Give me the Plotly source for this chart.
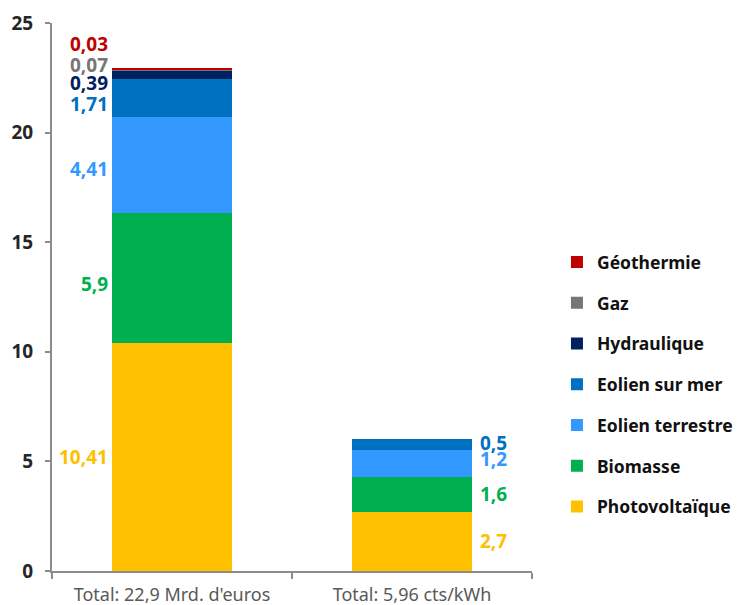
import plotly.graph_objects as go

categories = ["Total: 22,9 Mrd. d'euros", "Total: 5,96 cts/kWh"]
series_names = ["Photovoltaïque", "Biomasse", "Eolien terrestre", "Eolien sur mer",
                "Hydraulique", "Gaz", "Géothermie"]
values_bar1 = [10.41, 5.9, 4.41, 1.71, 0.39, 0.07, 0.03]
values_bar2 = [2.7, 1.6, 1.2, 0.5, None, None, None]
colors = ["#FFC000", "#00B050", "#3399FF", "#0070C0", "#002060", "#767676", "#C00000"]
y_ticks = [0, 5, 10, 15, 20, 25]

FONT = "Noto Sans"

def fmt(v):
    return f"{v:g}".replace(".", ",")

fig = go.Figure()
n = len(series_names)
for i, name in enumerate(series_names):
    fig.add_trace(go.Bar(
        x=categories,
        y=[values_bar1[i], values_bar2[i]],
        name=name,
        marker=dict(color=colors[i], line=dict(width=0)),
        legendgroup=name,
        legendrank=n - i,
        hoverinfo="skip",
    ))

annotations = []
# label offsets (pixels) to separate crowded labels
shift1 = [0, -6, -4, -6, -8, 5, 25]
shift2 = [0, 0, 5, 2]
cum = 0
for i, v in enumerate(values_bar1):
    mid = cum + v / 2
    cum += v
    annotations.append(dict(
        x=categories[0], y=mid, xref="x", yref="y",
        text=f"<b>{fmt(v)}</b>", showarrow=False,
        xanchor="right", yanchor="middle", xshift=-62, yshift=shift1[i],
        font=dict(family=FONT, size=19, color=colors[i]),
    ))
cum = 0
for i, v in enumerate(values_bar2):
    if v is None:
        continue
    mid = cum + v / 2
    cum += v
    annotations.append(dict(
        x=categories[1], y=mid, xref="x", yref="y",
        text=f"<b>{fmt(v)}</b>", showarrow=False,
        xanchor="left", yanchor="middle", xshift=66, yshift=shift2[i],
        font=dict(family=FONT, size=19, color=colors[i]),
    ))

fig.update_layout(
    width=737, height=605,
    barmode="stack",
    bargap=0.5,
    plot_bgcolor="white", paper_bgcolor="white",
    margin=dict(l=52, r=205, t=23, b=34, autoexpand=False),
    font=dict(family=FONT),
    showlegend=True,
    legend=dict(
        x=1.052, xanchor="left", y=0.340, yanchor="middle",
        traceorder="grouped", tracegroupgap=15,
        font=dict(family=FONT, size=17.5, color="#111111", weight="bold"),
        bgcolor="rgba(0,0,0,0)",
        itemwidth=30,
    ),
    annotations=annotations,
)
fig.update_xaxes(
    automargin=False,
    showline=True, linecolor="#8c8c8c", linewidth=2,
    ticks="outside", tickson="boundaries", ticklen=6, tickcolor="#8c8c8c", tickwidth=2,
    tickfont=dict(family=FONT, size=18, color="#595959"),
    ticklabelstandoff=6,
    showgrid=False, zeroline=False,
)
fig.update_yaxes(
    automargin=False,
    range=[0, 25], tickvals=y_ticks,
    showline=True, linecolor="#8c8c8c", linewidth=2,
    ticks="outside", ticklen=5, tickcolor="#8c8c8c", tickwidth=2,
    tickfont=dict(family=FONT, size=19, color="#262626", weight="bold"),
    ticklabelstandoff=8,
    showgrid=False, zeroline=False,
)

fig.write_html("out.html", config={"displayModeBar": False},
               post_script="document.body.style.margin='0';")
